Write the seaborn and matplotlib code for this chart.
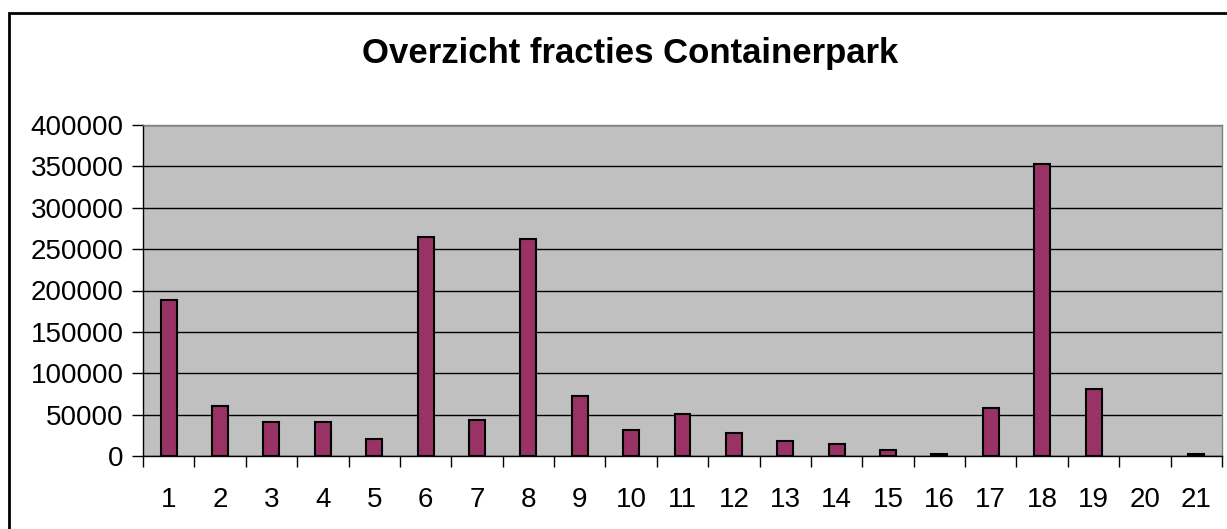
import numpy as np
import pandas as pd
import matplotlib
matplotlib.use("Agg")
import matplotlib.pyplot as plt
import seaborn as sns
from matplotlib.patches import Rectangle

# gegevens
categories = [str(i) for i in range(1, 22)]
values = [188000, 60000, 41500, 41500, 20600, 265000, 44000, 262500, 72000, 32000,
          51000, 28000, 18500, 14000, 7000, 2000, 58000, 352500, 81000, 0, 2000]
yticks = [0, 50000, 100000, 150000, 200000, 250000, 300000, 350000, 400000]

df = pd.DataFrame({"fractie": categories, "gewicht": values})

sns.set_style("white")
plt.rcParams['font.family'] = ['Liberation Sans', 'DejaVu Sans']
plt.rcParams['text.color'] = 'black'
plt.rcParams['xtick.color'] = 'black'
plt.rcParams['ytick.color'] = 'black'

fig = plt.figure(figsize=(12.27, 5.29), dpi=100)
ax = fig.add_axes([143 / 1227, 1 - 456 / 529, (1222 - 143) / 1227, (456 - 125) / 529])

sns.barplot(data=df, x="fractie", y="gewicht", order=categories, color="#993366",
            saturation=1, edgecolor="black", linewidth=1.5, width=0.31, ax=ax, zorder=3)

# lege staaf (waarde 0) niet tekenen
for p in ax.patches:
    if p.get_height() == 0:
        p.set_visible(False)

ax.set_facecolor("#C0C0C0")
ax.set_ylim(0, 400000)
ax.set_xlim(-0.5, len(categories) - 0.5)
ax.set_yticks(yticks)
ax.set_yticklabels([str(v) for v in yticks], fontsize=20)
ax.yaxis.grid(True, color="black", linewidth=1)
ax.set_axisbelow(True)
ax.set_xlabel("")
ax.set_ylabel("")

ax.tick_params(axis="x", which="major", bottom=False, length=0, labelsize=20,
               labelcolor="black", pad=22)
ax.set_xticks(np.arange(-0.5, len(categories)), minor=True)
ax.tick_params(axis="x", which="minor", bottom=True, length=8, width=1,
               color="black", direction="out")
ax.tick_params(axis="y", left=True, length=8, width=1, color="black",
               labelcolor="black", direction="out", pad=6)

for side in ["left", "bottom"]:
    ax.spines[side].set_color("black")
    ax.spines[side].set_linewidth(1)
for side in ["top", "right"]:
    ax.spines[side].set_color("#808080")
    ax.spines[side].set_linewidth(1)

fig.text(630 / 1227, 1 - 53 / 529, "Overzicht fracties Containerpark",
         ha="center", va="center", fontsize=25, fontweight="bold", color="black")

# kader rond de grafiek
fig.patches.append(Rectangle((9 / 1227, -0.05), 1.0, (529 - 13) / 529 + 0.05,
                             transform=fig.transFigure, fill=False,
                             edgecolor="black", linewidth=2))

fig.savefig("out.png", dpi=100)
